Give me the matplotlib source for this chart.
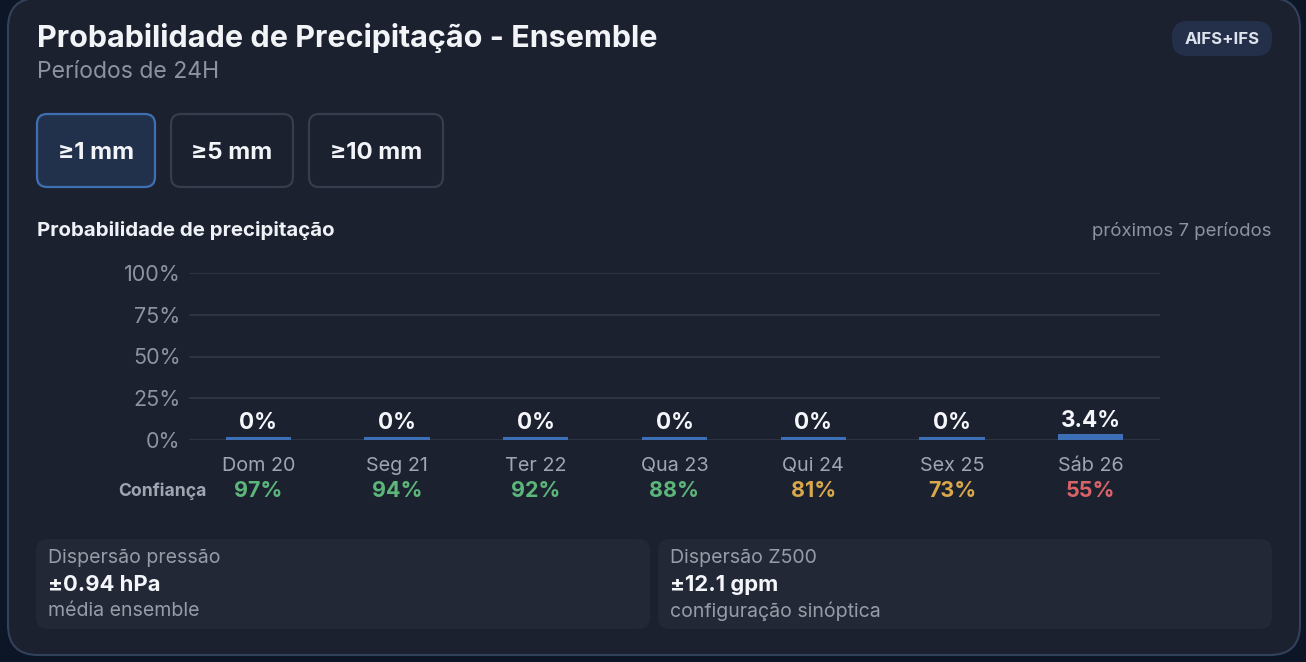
import matplotlib
matplotlib.use("Agg")
import matplotlib.pyplot as plt
from matplotlib.patches import FancyBboxPatch

plt.rcParams['font.family'] = ['Inter', 'DejaVu Sans']

# data
days = ['Dom 20', 'Seg 21', 'Ter 22', 'Qua 23', 'Qui 24', 'Sex 25', 'Sáb 26']
prob = [0, 0, 0, 0, 0, 0, 3.4]
prob_labels = ['0%', '0%', '0%', '0%', '0%', '0%', '3.4%']
confidence = [97, 94, 92, 88, 81, 73, 55]
yticks = [0, 25, 50, 75, 100]
thresholds = ['≥1 mm', '≥5 mm', '≥10 mm']
stats_titles = ['Dispersão pressão', 'Dispersão Z500']
stats_values = ['±0.94 hPa', '±12.1 gpm']
stats_notes = ['média ensemble', 'configuração sinóptica']

W, H = 1306, 662
fig = plt.figure(figsize=(W / 100, H / 100), dpi=100)
fig.patch.set_facecolor('#0d1626')

# background axes in pixel coords (y down)
bg = fig.add_axes([0, 0, 1, 1])
bg.set_xlim(0, W)
bg.set_ylim(H, 0)
bg.axis('off')


def rbox(x, y, w, h, r, fc, ec='none', lw=1.0):
    p = FancyBboxPatch((x, y), w, h, boxstyle=f'round,pad=0,rounding_size={r}',
                       fc=fc, ec=ec, lw=lw, mutation_aspect=1)
    bg.add_patch(p)


def px(s):
    return s / 100 * 72


# card
rbox(8, -2, 1292, 657, 30, '#1c2130', '#33415a', 1.5)

bg.text(37, 38, 'Probabilidade de Precipitação - Ensemble', fontsize=px(30.5),
        fontweight='bold', color='#f2f4f8', va='center')
bg.text(37, 72, 'Períodos de 24H', fontsize=px(23), color='#8d939f', va='center')

# badge
rbox(1172, 21, 100, 35, 16, '#24304a')
bg.text(1222, 39, 'AIFS+IFS', fontsize=px(16.8), fontweight='bold', color='#dde3ec',
        ha='center', va='center')

# threshold buttons
btn_x = [37, 171, 309]
btn_w = [118, 122, 134]
for i, t in enumerate(thresholds):
    if i == 0:
        rbox(btn_x[i], 114, btn_w[i], 73, 10, '#22314b', '#3f6fb3', 1.6)
    else:
        rbox(btn_x[i], 114, btn_w[i], 73, 10, '#1c2130', '#363d4c', 1.6)
    bg.text(btn_x[i] + btn_w[i] / 2, 153, t, fontsize=px(24), fontweight='bold',
            color='#f2f4f8', ha='center', va='center')

bg.text(37, 231, 'Probabilidade de precipitação', fontsize=px(20.5), fontweight='bold',
        color='#eef1f6', va='center')
bg.text(1271, 231, 'próximos 7 períodos', fontsize=px(18.5), color='#8d939f',
        ha='right', va='center')

# chart axes
ax = fig.add_axes([189 / W, 1 - 440 / H, (1160 - 189) / W, (440 - 273) / H])
ax.patch.set_alpha(0)
ax.set_xlim(-0.5, len(days) - 0.5)
ax.set_ylim(0, 100)
for s in ax.spines.values():
    s.set_visible(False)
ax.set_yticks(yticks)
ax.set_yticklabels([f'{v}%' for v in yticks], fontsize=px(21.5), color='#8d939f')
ax.tick_params(axis='y', length=0, pad=6)
ax.set_xticks([])
ax.grid(axis='y', color='#2f3546', lw=1.3)
ax.set_axisbelow(True)

xs = list(range(len(days)))
shown = [max(v, 2.0) for v in prob]
ax.bar(xs, shown, width=0.47, color='#3d6fb6', zorder=3)
for x, v, lab in zip(xs, shown, prob_labels):
    ax.text(x, v + 1.5, lab, ha='center', va='bottom', fontsize=px(22.5), fontweight='bold',
            color='#f4f6fa', zorder=4)


def conf_color(c):
    if c >= 85:
        return '#5cb67a'
    if c >= 70:
        return '#d9a84a'
    return '#d96468'


for x, d, c in zip(xs, days, confidence):
    ax.annotate(d, (x, 0), xycoords='data', xytext=(0, -26 * 0.72), textcoords='offset points',
                ha='center', va='center', fontsize=px(19.8), color='#a0a6b1')
    ax.annotate(f'{c}%', (x, 0), xycoords='data', xytext=(0, -51 * 0.72),
                textcoords='offset points', ha='center', va='center', fontsize=px(21.5),
                fontweight='bold', color=conf_color(c))

bg.text(207, 491, 'Confiança', fontsize=px(17.6), fontweight='bold', color='#a0a6b1',
        ha='right', va='center')

# stat cards
card_x = [36, 658]
for i in range(2):
    rbox(card_x[i], 539, 614, 90, 12, '#232836')
    bg.text(card_x[i] + 12, 558, stats_titles[i], fontsize=px(19.5), color='#979da8', va='center')
    bg.text(card_x[i] + 12, 585, stats_values[i], fontsize=px(22), fontweight='bold',
            color='#f4f6fa', va='center')
    bg.text(card_x[i] + 12, 611, stats_notes[i], fontsize=px(19.5), color='#979da8', va='center')

fig.savefig('out.png', dpi=100, facecolor=fig.get_facecolor())
